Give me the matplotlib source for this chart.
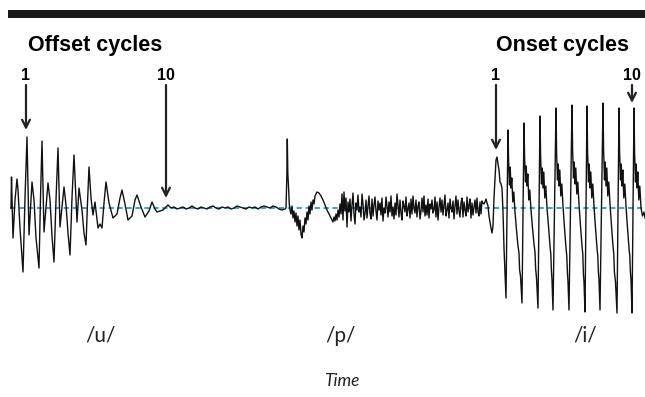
import matplotlib.pyplot as plt
import numpy as np

# Waveform: time in samples, amplitude relative to baseline

# /u/ offset cycles (decaying voicing)
u_t = [11, 11.5, 13, 15, 17, 18, 20, 23, 25, 27, 29, 32, 34, 36, 39, 40.5, 42, 44, 48, 50, 52,
       54, 56, 58, 60, 64, 66, 68, 70, 72, 74, 77, 79, 82, 84, 86, 87.5, 89, 91, 93, 95, 98,
       100, 102, 104, 106, 109, 113, 117, 120, 122, 125, 128, 132, 135, 137, 141, 145, 149,
       152, 155, 157, 160, 163, 166, 168, 171]
u_a = [0, 31, -30, 8, 29, 18, -20, -64, 10, 71, -27, 26, 8, -30, -60, 10, 67, -24, 25, 8, -28,
       -54, 8, 60, -19, 21, 3, -25, -47, 10, 53, -14, 20, -2, -25, -37, 5, 41, 10, -7, 6, -20,
       -16, -20, 5, 26, 5, -10, -6, 10, 18, 4, -12, -8, 8, 13, 1, -9, -3, 6, -1, -4, -3, -2,
       1, 3, 0]

# closure silence
sil_t = [174, 177, 180, 183, 186, 189, 192, 195, 198, 201, 204, 207, 210, 213, 216, 219, 222,
         225, 228, 231, 234, 237, 240, 243, 246, 249, 252, 255, 258, 261, 264, 267, 270, 273,
         276, 279, 282, 285, 286]
sil_a = [1, -1, 0, 1, -1, 0, 2, 0, -1, 1, 0, -1, 1, 2, 0, -1, 1, 0, 1, -1, 0, 2, 1, 0, -1,
         1, 0, 1, -1, 1, 2, 1, 0, 2, 1, -1, -2, -1, 0]

# /p/ burst
p_t = [286.8, 287.3, 287.8, 288.5, 289.2, 290, 291, 292, 293, 294, 295, 296, 297, 298, 299,
       300, 301, 302, 303, 304, 305, 306, 307, 308, 309, 310, 311, 312, 313, 314, 315, 317,
       319, 321, 323, 325, 327, 329, 331, 333, 334, 335, 336, 337, 338, 339, 340, 341]
p_a = [30, 69, 35, 22, 5, -2, -6, 2, -10, -3, -14, -5, -18, -8, -22, -12, -26, -30, -18, -24,
       -10, -16, -4, -12, 2, -6, 6, -2, 8, 4, 12, 16, 15, 12, 8, 3, -2, -6, -10, -14, -9, -13,
       -6, -12, -2, -9, 4, -6]

# aspiration noise, one value per sample from t = 342
asp_a = [14, -12, 16, -3, 10, -19, 6, -4, 9, -13, 3, 15, -6, -16, 5, -2, 13, -4, 1, -9,
         14, 4, -12, -5, 8, -10, 2, 12, -6, -11, 9, -8, 3, 11, -3, -12, 7, -2, 5, -7,
         10, -13, 0, -5, 11, 2, -9, 6, -4, 12, -8, 1, -11, 5, -7, 14, 3, -9, 8, -5,
         -12, 7, 2, -4, 11, -8, -1, 5, -10, 9, -6, 12, 0, -5, 8, -9, 2, 6, -11, -3,
         10, -4, 12, -8, 3, -7, 9, -10, 4, -1, 8, -5, -2, 11, -9, 6, -12, 1, 10, -4,
         8, -7, 3, 13, -8, -2, 5, -10, 9, 0, -4, 7, -11, 2, 12, -6, 8, -3, -9, 5,
         10, -9, 6, -2, -8, 11, -4, 3, 9, -10, 5, -7, 1, 8, -5, 10, -4, -8, 6, -6, 7, 5, 4]

# /i/ onset cycles
i_t = [485, 486, 487, 488, 489, 490, 491, 492, 493, 494, 495, 496,
       497, 498, 499, 500, 501, 502, 503, 504, 505, 506,
       508, 508.6, 509.5, 510.2, 511, 511.8, 512.8, 513.8, 515, 516.5, 518, 519, 519.6, 520.5, 522,
       524, 524.6, 525.5, 526.2, 527, 527.8, 528.8, 529.8, 531, 532.5, 534, 535, 535.6, 536.5, 538,
       540, 540.6, 541.5, 542.2, 543, 543.8, 544.8, 545.8, 547, 548.5, 550, 550.8, 551.4, 552, 553,
       556, 556.6, 557.5, 558.2, 559, 559.8, 560.8, 561.8, 563, 564.5, 566, 566.8, 567.4, 568, 569,
       572, 572.6, 573.5, 574.2, 575, 575.8, 576.8, 577.8, 579, 580.5, 582, 582.8, 583.4, 584, 585,
       587, 587.6, 588.5, 589.2, 590, 590.8, 591.8, 592.8, 594, 595.5, 597, 597.8, 598.4, 599, 600,
       603, 603.6, 604.5, 605.2, 606, 606.8, 607.8, 608.8, 610, 611.5, 613, 613.8, 614.4, 615.5, 617,
       619, 619.6, 620.5, 621.2, 622, 622.8, 623.8, 624.8, 626, 627.5, 629, 629.8, 630.4, 631, 632,
       634, 634.6, 635.5, 636.2, 637, 637.8, 638.8, 639.8, 641, 642.5, 644, 645]
i_a = [6, 9, 5, 2, -8, -14, -20, -25, -18, 10, 30, 48,
       51, 44, 38, 26, 24, 20, -4, -40, -66, -90,
       78, 48, 23, 41, 20, 30, 6, 16, -4, -22, -38, -45, -62, -68, -95,
       85, 50, 26, 42, 22, 34, 8, 18, -2, -20, -36, -44, -60, -70, -100,
       92, 52, 24, 40, 20, 36, 10, 22, 0, -18, -38, -46, -62, -72, -102,
       100, 55, 28, 44, 22, 38, 12, 24, 2, -20, -40, -48, -64, -74, -102,
       103, 58, 30, 46, 24, 40, 14, 26, 4, -18, -38, -46, -66, -74, -104,
       102, 56, 26, 44, 20, 36, 10, 24, 2, -20, -40, -48, -64, -72, -102,
       105, 58, 28, 46, 22, 40, 12, 26, 4, -18, -38, -46, -64, -74, -105,
       100, 56, 28, 44, 22, 38, 10, 24, 2, -20, -40, -48, -64, -72, -105,
       100, 55, 26, 44, 20, 36, 8, 22, 0, -8, -4, -10]

asp_t = 342 + np.arange(len(asp_a))
t = np.concatenate([u_t, sil_t, p_t, asp_t, i_t])
a = np.concatenate([u_a, sil_a, p_a, asp_a, i_a])

fig = plt.figure(figsize=(6.45, 3.97), dpi=100)
ax = fig.add_axes([0, 0, 1, 1])
ax.set_xlim(0, 645)
ax.set_ylim(-189, 208)
ax.axis("off")

# top rule
ax.axhspan(190, 198, xmin=8/645, xmax=1, color="#1a1a1a", lw=0)

ax.plot([10, 645], [0, 0], color="#3aa6d6", lw=1.5, dashes=(2.5, 1.8), zorder=1)
ax.plot(t, a, color="#111111", lw=1.0, zorder=2)

bold = dict(family="Liberation Sans", weight="bold", ha="center", va="center")
ax.text(95, 163, "Offset cycles", fontsize=15.5, **bold)
ax.text(563, 163, "Onset cycles", fontsize=15.5, **bold)

arrows = [("1", 26, 78), ("10", 166, 10), ("1", 496, 58), ("10", 632, 105)]
for lab, x, tip in arrows:
    ax.text(x, 133, lab, fontsize=11.5, **bold)
    ax.annotate("", xy=(x, tip), xytext=(x, 123),
                arrowprops=dict(arrowstyle="->", lw=1.6, color="#222222",
                                mutation_scale=14, shrinkA=0, shrinkB=0))

for lab, x in [("/u/", 100), ("/p/", 340), ("/i/", 585)]:
    ax.text(x, -128, lab, fontsize=15, family="Lato", ha="center", va="center", color="#222222")
ax.text(342, -173, "Time", fontsize=12.5, family="Lato", style="italic",
        ha="center", va="center", color="#222222")

plt.savefig("out.png", dpi=100)
